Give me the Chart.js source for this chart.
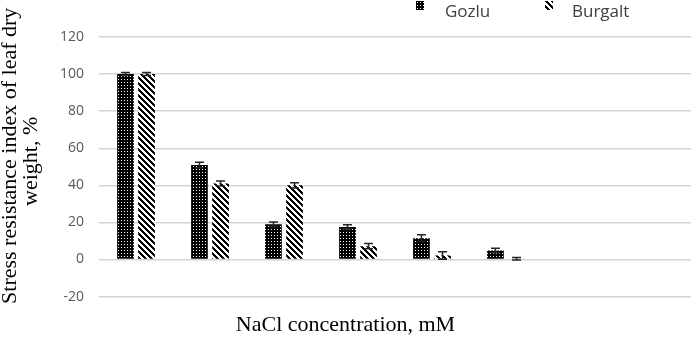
<!DOCTYPE html>
<html>
<head>
<meta charset="utf-8">
<script src="https://cdn.jsdelivr.net/npm/chart.js@4.4.1/dist/chart.umd.min.js"></script>
<style>
  body { margin: 0; background: #fff; }
  #wrap { position: relative; width: 691px; height: 347px; }
  .leg { position: absolute; font: 17px "Open Sans", sans-serif; color: #404040; top: 1px; line-height: 20px; }
  .sw { position: absolute; width: 8px; height: 9px; }
</style>
</head>
<body>
<div id="wrap">
  <canvas id="chart" width="691" height="347"></canvas>
  <div class="sw" id="swGozlu" style="left:416px; top:1px;"></div>
  <div class="leg" style="left:445px;">Gozlu</div>
  <div class="sw" id="swBurgalt" style="left:545px; top:1px;"></div>
  <div class="leg" style="left:572px;">Burgalt</div>
</div>
<script>
// NaCl concentrations (mM); the Excel axis had two more empty slots on the right
const categories = ["0", "50", "100", "150", "200", "250"];
const emptySlots = ["", ""];

// stress resistance index of leaf dry weight, %
const gozlu = [100, 51, 19, 17.6, 11.5, 4.9];
const burgalt = [100, 41, 40, 7.2, 2.2, 0.4];

// error bar half-lengths
const gozluErr = [0.8, 1.5, 1.2, 1.1, 1.8, 1.2];
const burgaltErr = [0.8, 1.3, 1.4, 1.4, 2.0, 0.7];

const yTicks = { min: -20, max: 120, step: 20 };

// small bitmap tiles for the Excel-like fills
function makeTile(size, isBlack) {
    const c = document.createElement("canvas");
    c.width = size; c.height = size;
    const g = c.getContext("2d");
    g.fillStyle = "#fff";
    g.fillRect(0, 0, size, size);
    g.fillStyle = "#000";
    for (let x = 0; x < size; x++) {
        for (let y = 0; y < size; y++) {
            if (isBlack(x, y)) g.fillRect(x, y, 1, 1);
        }
    }
    return c;
}

// dense grid with white dots
const gridTile = makeTile(3, (x, y) => !(x === 1 && y === 1));
// wide downward diagonal
const diagTile = makeTile(6, (x, y) => ((x - y + 12) % 6) < 3);

const ctx = document.getElementById("chart").getContext("2d");
const gozluFill = ctx.createPattern(gridTile, "repeat");
const burgaltFill = ctx.createPattern(diagTile, "repeat");

document.getElementById("swGozlu").style.background = `url(${gridTile.toDataURL()})`;
document.getElementById("swBurgalt").style.background = `url(${diagTile.toDataURL()})`;

// draws the error bars from the arrays above
const errorBars = {
    id: "errorBars",
    afterDatasetsDraw(chart) {
        const errs = [gozluErr, burgaltErr];
        const yScale = chart.scales.y;
        const c = chart.ctx;
        c.save();
        c.strokeStyle = "#262626";
        c.lineWidth = 1.5;
        chart.data.datasets.forEach((ds, i) => {
            const meta = chart.getDatasetMeta(i);
            meta.data.forEach((bar, j) => {
                const v = ds.data[j];
                const e = errs[i][j];
                if (v == null || e == null) return;
                const top = yScale.getPixelForValue(v + e);
                const bot = yScale.getPixelForValue(v - e);
                const half = 4.5;
                c.beginPath();
                c.moveTo(bar.x, top); c.lineTo(bar.x, bot);
                c.moveTo(bar.x - half, top); c.lineTo(bar.x + half, top);
                c.moveTo(bar.x - half, bot); c.lineTo(bar.x + half, bot);
                c.stroke();
            });
        });
        c.restore();
    }
};

new Chart(ctx, {
    type: "bar",
    data: {
        labels: categories.concat(emptySlots),
        datasets: [
            { label: "Gozlu", data: gozlu, backgroundColor: gozluFill, borderWidth: 0 },
            { label: "Burgalt", data: burgalt, backgroundColor: burgaltFill, borderWidth: 0 }
        ]
    },
    options: {
        responsive: false,
        animation: false,
        devicePixelRatio: 1,
        layout: { padding: { top: 37, right: 0, bottom: 0, left: 0 } },
        datasets: {
            bar: { categoryPercentage: 0.57, barPercentage: 0.79 }
        },
        plugins: {
            legend: { display: false },
            tooltip: { enabled: false },
            // axis title of the x axis, centred on the whole picture like in Excel
            title: {
                display: true,
                position: "bottom",
                text: "NaCl concentration, mM",
                color: "#000",
                font: { family: "Liberation Serif", size: 22, weight: "normal" },
                padding: { top: 0, bottom: 9 }
            }
        },
        scales: {
            x: {
                grid: { display: false, drawTicks: false },
                border: { display: false },
                ticks: {
                    color: "#595959",
                    font: { family: "Open Sans", size: 14 },
                    padding: -24
                },
                afterFit: (s) => { s.height = 15; }
            },
            y: {
                min: yTicks.min,
                max: yTicks.max,
                ticks: {
                    stepSize: yTicks.step,
                    color: "#595959",
                    font: { family: "Open Sans", size: 14 },
                    padding: 15
                },
                grid: { color: "#d4d4d4", lineWidth: 1.5, drawTicks: false },
                border: { display: false },
                title: {
                    display: true,
                    text: ["    Stress resistance index of leaf dry", "  weight, %"],
                    color: "#000",
                    font: { family: "Liberation Serif", size: 22, lineHeight: 0.95 },
                    padding: { top: 0, bottom: 0 }
                },
                afterFit: (s) => { s.width = 99; }
            }
        }
    },
    plugins: [errorBars]
});
</script>
</body>
</html>
